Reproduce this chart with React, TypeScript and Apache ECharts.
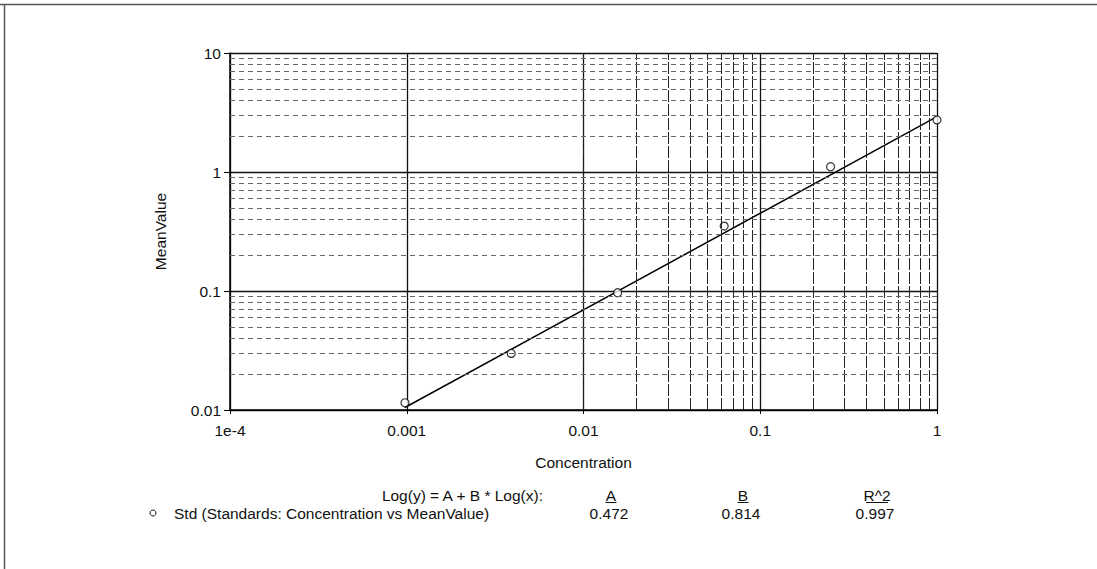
import React, { useEffect, useRef } from "react";
import * as echarts from "echarts";

// ---- data ----
const concentrations = [0.000977, 0.0039, 0.0156, 0.0625, 0.25, 1];
const meanValues = [0.0115, 0.0299, 0.0968, 0.351, 1.108, 2.74];
const fitX = [0.000977, 1];
const fitY = [0.0105, 2.92];
const xTickLabels = ["1e-4", "0.001", "0.01", "0.1", "1"];
const yTickLabels = ["0.01", "0.1", "1", "10"];
const xDecades = [0.0001, 0.001, 0.01, 0.1];
const yDecades = [0.01, 0.1, 1];
const minorMultipliers = [2, 3, 4, 5, 6, 7, 8, 9];
const coefNames = ["A", "B", "R^2"];
const coefValues = ["0.472", "0.814", "0.997"];
const equationText = "Log(y) = A + B * Log(x):";
const seriesLabel = "Std (Standards: Concentration vs MeanValue)";

const FONT = '"Liberation Sans", Arial, sans-serif';
const FS = 15.5;

export default function App() {
  const ref = useRef<HTMLDivElement>(null);

  useEffect(() => {
    if (!ref.current) return;
    const chart = echarts.init(ref.current, null, { renderer: "svg" });

    const xMinor: any[] = [];
    xDecades.forEach((d) =>
      minorMultipliers.forEach((m) => xMinor.push({ xAxis: +(d * m).toPrecision(3) }))
    );
    const yMinor: any[] = [];
    yDecades.forEach((d) =>
      minorMultipliers.forEach((m) => yMinor.push({ yAxis: +(d * m).toPrecision(3) }))
    );

    const labelX = (v: number) => {
      const i = Math.round(Math.log10(v)) + 4;
      return xTickLabels[i] ?? "";
    };
    const labelY = (v: number) => {
      const i = Math.round(Math.log10(v)) + 2;
      return yTickLabels[i] ?? "";
    };

    const coefX = [611, 743, 877];

    const graphics: any[] = [
      { type: "line", shape: { x1: 0, y1: 4.5, x2: 1097, y2: 4.5 }, style: { stroke: "#555", lineWidth: 1.5 } },
      { type: "line", shape: { x1: 4.5, y1: 4, x2: 4.5, y2: 569 }, style: { stroke: "#555", lineWidth: 1.5 } },
      {
        type: "text",
        x: 543,
        y: 495,
        style: { text: equationText, font: `${FS}px ${FONT}`, fill: "#111", textAlign: "right", textVerticalAlign: "middle" },
      },
      { type: "circle", shape: { cx: 153, cy: 513, r: 3 }, style: { fill: "none", stroke: "#111", lineWidth: 1 } },
      {
        type: "text",
        x: 174,
        y: 513,
        style: { text: seriesLabel, font: `${FS}px ${FONT}`, fill: "#111", textAlign: "left", textVerticalAlign: "middle" },
      },
    ];
    coefNames.forEach((n, i) => {
      const w = n.length === 1 ? 11 : 22;
      graphics.push({
        type: "text",
        x: coefX[i],
        y: 495,
        style: { text: n, font: `${FS}px ${FONT}`, fill: "#111", textAlign: "center", textVerticalAlign: "middle" },
      });
      graphics.push({
        type: "line",
        shape: { x1: coefX[i] - w / 2, y1: 502.5, x2: coefX[i] + w / 2, y2: 502.5 },
        style: { stroke: "#111", lineWidth: 1 },
      });
      graphics.push({
        type: "text",
        x: coefX[i] - 2,
        y: 513,
        style: { text: coefValues[i], font: `${FS}px ${FONT}`, fill: "#111", textAlign: "center", textVerticalAlign: "middle" },
      });
    });

    chart.setOption({
      animation: false,
      backgroundColor: "#fff",
      grid: { left: 230, right: 160, top: 53, bottom: 159, containLabel: false },
      xAxis: {
        type: "log",
        logBase: 10,
        min: 0.0001,
        max: 1,
        name: "Concentration",
        nameLocation: "middle",
        nameGap: 44,
        nameTextStyle: { fontFamily: FONT, fontSize: FS, color: "#111" },
        axisLine: { show: true, onZero: false, lineStyle: { color: "#000", width: 1.5 } },
        axisTick: { show: true, inside: false, length: 4, lineStyle: { color: "#000" } },
        axisLabel: { formatter: labelX, fontFamily: FONT, fontSize: FS, color: "#111", margin: 12 },
        splitLine: { show: true, lineStyle: { color: "#111", width: 1.3, type: "solid" } },
      },
      yAxis: {
        type: "log",
        logBase: 10,
        min: 0.01,
        max: 10,
        name: "MeanValue",
        nameLocation: "middle",
        nameGap: 62,
        nameTextStyle: { fontFamily: FONT, fontSize: FS, color: "#111" },
        axisLine: { show: true, onZero: false, lineStyle: { color: "#000", width: 1.5 } },
        axisTick: { show: true, inside: false, length: 6, lineStyle: { color: "#000" } },
        axisLabel: { formatter: labelY, fontFamily: FONT, fontSize: FS, color: "#111", margin: 9 },
        splitLine: { show: true, lineStyle: { color: "#111", width: 1.3, type: "solid" } },
      },
      graphic: graphics,
      series: [
        {
          type: "line",
          data: [],
          z: 1,
          markLine: {
            silent: true,
            symbol: "none",
            label: { show: false },
            animation: false,
            lineStyle: { color: "#222", width: 1, type: [12, 2] },
            data: [
              ...xMinor,
              ...yMinor.map((d) => ({ ...d, lineStyle: { color: "#666", width: 1, type: [5, 4] } })),
            ],
          },
        },
        {
          type: "line",
          z: 3,
          data: fitX.map((x, i) => [x, fitY[i]]),
          symbol: "none",
          lineStyle: { color: "#000", width: 1.5 },
        },
        {
          type: "scatter",
          z: 4,
          data: concentrations.map((x, i) => [x, meanValues[i]]),
          symbol: "circle",
          symbolSize: 8,
          itemStyle: { color: "#fff", borderColor: "#000", borderWidth: 1.2 },
        },
      ],
    });

    return () => chart.dispose();
  }, []);

  return (
    <div
      ref={ref}
      style={{ position: "fixed", left: 0, top: 0, width: 1097, height: 569, background: "#fff" }}
    />
  );
}
